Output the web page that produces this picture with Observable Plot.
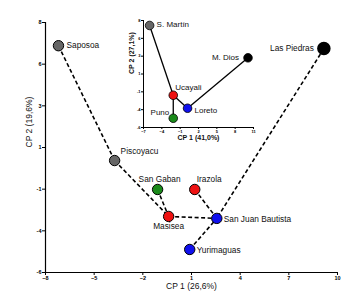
<!DOCTYPE html>
<html><head><meta charset="utf-8">
<script src="https://cdn.jsdelivr.net/npm/d3@7"></script>
<script src="https://cdn.jsdelivr.net/npm/@observablehq/plot@0.6"></script>
<style>
body{margin:0;background:#fff;}
#wrap{position:relative;width:360px;height:295px;font-family:"Liberation Sans",Arial,sans-serif;}
#inset{position:absolute;left:120px;top:5px;}
</style></head><body>
<div id="wrap"><div id="main"></div><div id="inset"></div></div>
<script>
// Main chart data
const mainNames = ["Saposoa","Piscoyacu","San Gaban","Masisea","Irazola","San Juan Bautista","Yurimaguas","Las Piedras"];
const mainX = [-7.2,-3.74,-1.09,-0.41,1.2,2.56,0.89,9.16];
const mainY = [6.7,0.27,-1.35,-2.86,-1.35,-2.97,-4.71,6.54];
const mainColors = ["#666666","#666666","#1a8a1a","#ee1111","#ee1111","#1010ee","#1010ee","#000000"];
const mainEdges = [["Saposoa","Piscoyacu"],["Piscoyacu","Masisea"],["San Gaban","Masisea"],["Masisea","San Juan Bautista"],["Irazola","San Juan Bautista"],["Yurimaguas","San Juan Bautista"],["Las Piedras","San Juan Bautista"]];
const mainXTicks = [-8,-5,-2,1,4,7,10];
const mainYTickLabels = ["-6","-4","-1","1","3","6","8"];
const mainYDomain = [-6,8];

// Inset data
const insetNames = ["S. Martín","M. Dios","Ucayali","Loreto","Puno"];
const insetX = [-6.0,10.1,-2.13,0.21,-2.13];
const insetY = [7.35,3.12,-1.78,-3.48,-4.79];
const insetColors = ["#666666","#000000","#ee1111","#1010ee","#1a8a1a"];
const insetEdges = [["S. Martín","Ucayali"],["Ucayali","Puno"],["Ucayali","Loreto"],["Loreto","M. Dios"]];
const insetXTicks = [-7,-4,-1,2,5,8,11];
const insetYTickLabels = ["-6","-4","-1","1","3","6","8"];
const insetYDomain = [-6,8];

const mainPts = mainNames.map((n,i)=>({name:n,x:mainX[i],y:mainY[i],c:mainColors[i]}));
const insetPts = insetNames.map((n,i)=>({name:n,x:insetX[i],y:insetY[i],c:insetColors[i]}));
const byName = (pts)=>Object.fromEntries(pts.map(p=>[p.name,p]));
const mp = byName(mainPts), ip = byName(insetPts);
const mainLinks = mainEdges.map(([a,b])=>({x1:mp[a].x,y1:mp[a].y,x2:mp[b].x,y2:mp[b].y}));
const insetLinks = insetEdges.map(([a,b])=>({x1:ip[a].x,y1:ip[a].y,x2:ip[b].x,y2:ip[b].y}));
const yTickPos = (dom,n)=>d3.range(n).map(i=>dom[0]+i*(dom[1]-dom[0])/(n-1));

const mainYT = yTickPos(mainYDomain, mainYTickLabels.length);
const mainLab = {
  "Saposoa":{anchor:"start",dx:8,dy:0},
  "Piscoyacu":{anchor:"start",dx:6,dy:-9},
  "San Gaban":{anchor:"middle",dx:2,dy:-10},
  "Masisea":{anchor:"middle",dx:0,dy:10},
  "Irazola":{anchor:"start",dx:2,dy:-10},
  "San Juan Bautista":{anchor:"start",dx:7,dy:1},
  "Yurimaguas":{anchor:"start",dx:7,dy:1},
  "Las Piedras":{anchor:"end",dx:-10,dy:0}
};

const font = "Liberation Sans, Arial, sans-serif";
function labelMarks(lab, pts, fs){
  const marks=[];
  for(const p of pts){
    const L=lab[p.name];
    marks.push(Plot.text([p],{x:"x",y:"y",text:"name",textAnchor:L.anchor,dx:L.dx,dy:L.dy,fontSize:fs,fill:"#111"}));
  }
  return marks;
}

const main = Plot.plot({
  width:360,height:295,
  marginLeft:45,marginRight:23,marginTop:22,marginBottom:23,
  style:{fontFamily:font,background:"transparent"},
  x:{domain:[-8,10]},
  y:{domain:mainYDomain},
  marks:[
    Plot.axisX({ticks:mainXTicks,tickSize:3,tickPadding:1,fontSize:5.5,fontWeight:"bold",label:null}),
    Plot.axisY({ticks:mainYT,tickFormat:(d,i)=>mainYTickLabels[i],tickSize:3,tickPadding:1,fontSize:5.5,fontWeight:"bold",label:null}),
    Plot.ruleX([-8],{stroke:"#000",strokeWidth:1.2}),
    Plot.ruleY([-6],{stroke:"#000",strokeWidth:1.2}),
    Plot.link(mainLinks,{x1:"x1",y1:"y1",x2:"x2",y2:"y2",stroke:"#000",strokeWidth:1.6,strokeDasharray:"4,2.5"}),
    Plot.dot(mainPts,{x:"x",y:"y",r:5.2,fill:"c",stroke:"#000",strokeWidth:1}),
    Plot.dot(mainPts.filter(p=>p.name==="Las Piedras"),{x:"x",y:"y",r:6,fill:"c",stroke:"#000"}),
    ...labelMarks(mainLab, mainPts, 8.3),
    Plot.text(["CP 1 (26,6%)"],{frameAnchor:"bottom",dy:16,fontSize:8.5,fill:"#111"}),
    Plot.text(["CP 2 (19,6%)"],{frameAnchor:"left",dx:-16,rotate:-90,fontSize:8.5,fill:"#111"})
  ]
});
document.getElementById("main").appendChild(main);

const insetYT = yTickPos(insetYDomain, insetYTickLabels.length);
const insetLab = {
  "S. Martín":{anchor:"start",dx:7,dy:-1},
  "M. Dios":{anchor:"end",dx:-9,dy:0},
  "Ucayali":{anchor:"start",dx:2,dy:-8},
  "Loreto":{anchor:"start",dx:7,dy:2},
  "Puno":{anchor:"end",dx:-4,dy:-6}
};
const inset = Plot.plot({
  width:140,height:145,
  marginLeft:23,marginRight:7,marginTop:15,marginBottom:23,
  style:{fontFamily:font,background:"transparent",overflow:"visible"},
  x:{domain:[-7,11]},
  y:{domain:insetYDomain},
  marks:[
    Plot.axisX({ticks:insetXTicks,tickSize:2,tickPadding:1,fontSize:4,fontWeight:"bold",label:null}),
    Plot.axisY({ticks:insetYT,tickFormat:(d,i)=>insetYTickLabels[i],tickSize:2,tickPadding:1,fontSize:4,fontWeight:"bold",label:null}),
    Plot.ruleX([-7],{stroke:"#000",strokeWidth:1}),
    Plot.ruleY([-6],{stroke:"#000",strokeWidth:1}),
    Plot.link(insetLinks,{x1:"x1",y1:"y1",x2:"x2",y2:"y2",stroke:"#000",strokeWidth:1.3}),
    Plot.dot(insetPts,{x:"x",y:"y",r:4.3,fill:"c",stroke:"#000",strokeWidth:0.8}),
    ...labelMarks(insetLab, insetPts, 8),
    Plot.text(["CP 1 (41,0%)"],{frameAnchor:"bottom",dy:12,fontSize:7,fontWeight:"bold",fill:"#111"}),
    Plot.text(["CP 2 (27,1%)"],{frameAnchor:"left",dx:-12,rotate:-90,fontSize:7,fontWeight:"bold",fill:"#111"})
  ]
});
document.getElementById("inset").appendChild(inset);
</script></body></html>
